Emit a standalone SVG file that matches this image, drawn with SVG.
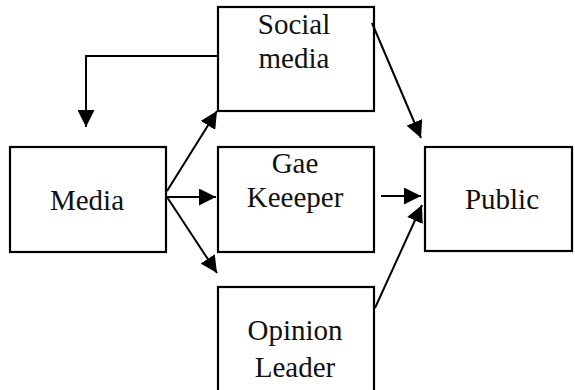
<svg xmlns="http://www.w3.org/2000/svg" width="575" height="390" viewBox="0 0 575 390">
<style>
.box{fill:#fff;stroke:#000;stroke-width:2.2}
.con{fill:none;stroke:#000;stroke-width:2;marker-end:url(#ah)}
text{font-family:'Liberation Serif','Times New Roman',Times,'DejaVu Serif',serif;font-size:29px;fill:#111;text-anchor:middle}
</style>
<defs>
<marker id="ah" markerUnits="userSpaceOnUse" markerWidth="17" markerHeight="17" refX="17" refY="8.5" orient="auto" viewBox="0 0 17 17">
<path d="M0,0 L17,8.5 L0,17 z" fill="#000"/>
</marker>
</defs>
<rect width="575" height="390" fill="#fff"/>
<g id="social">
<rect class="box" x="218" y="7" width="156" height="104"/>
<text x="294" y="34" font-family="'Liberation Serif', serif">Social</text>
<text x="294" y="68" font-family="'Liberation Serif', serif">media</text>
</g>
<g id="media">
<rect class="box" x="10" y="147" width="156" height="105"/>
<text x="87" y="210" font-family="'Liberation Serif', serif">Media</text>
</g>
<g id="gatekeeper">
<rect class="box" x="218" y="147" width="156" height="105"/>
<text x="295" y="173" font-family="'Liberation Serif', serif">Gae</text>
<text x="295" y="207" font-family="'Liberation Serif', serif">Keeeper</text>
</g>
<g id="public">
<rect class="box" x="425" y="147" width="147" height="104"/>
<text x="502" y="209" font-family="'Liberation Serif', serif">Public</text>
</g>
<g id="opinion">
<rect class="box" x="218" y="287" width="156" height="110"/>
<text x="295" y="340" font-family="'Liberation Serif', serif">Opinion</text>
<text x="295" y="377" font-family="'Liberation Serif', serif">Leader</text>
</g>
<g id="connectors">
<path class="con" d="M218,56 L86,56 L86,127"/>
<path class="con" d="M167,191 L217,111"/>
<path class="con" d="M167,197 L216,197"/>
<path class="con" d="M167,197 L217,273"/>
<path class="con" d="M372,23 L421,138"/>
<path class="con" d="M381,196 L421,196"/>
<path class="con" d="M375,308 L422,205"/>
</g>
</svg>
